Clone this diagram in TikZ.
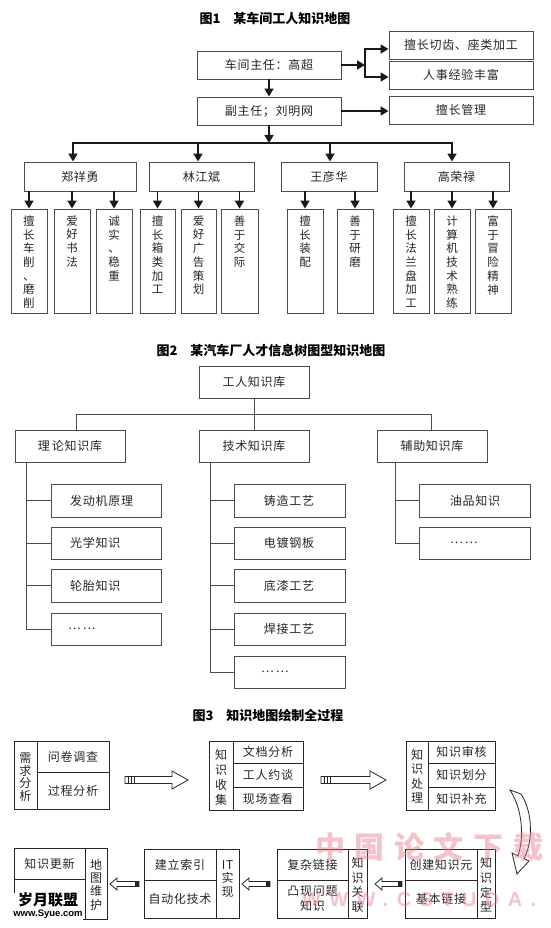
\documentclass[tikz,border=0pt]{standalone}
\usepackage{fontspec}
\newfontfamily\cjk[LetterSpace=6]{Noto Sans CJK SC}
\newfontfamily\cjkt{Noto Sans CJK SC}
\newfontfamily\wmcjk[LetterSpace=32]{Noto Sans CJK SC}
\newfontfamily\wmlat[LetterSpace=42]{Liberation Sans}
\newfontfamily\logolat{Liberation Sans}
\usetikzlibrary{fit,arrows.meta,calc}
\definecolor{wmpink}{RGB}{232,120,132}
\tikzset{
  bx/.style={draw=black!70, line width=0.9pt, inner sep=0pt},
  bx2/.style={bx, line width=0.8pt},
  bx3/.style={draw=black!85, line width=1pt, inner sep=0pt},
  tx/.style={inner sep=0pt, text=black!85, font=\cjk\fontsize{12}{14}\selectfont},
  vt/.style={inner sep=0pt, align=center, text=black!85, font=\cjk\fontsize{11.5}{13.7}\selectfont},
  ttl/.style={inner sep=0pt, font=\cjkt\bfseries\fontsize{13}{15}\selectfont},
  arr/.style={-{Triangle[length=8pt,width=9pt]}, line width=1.7pt, black!90},
  ln1/.style={line width=1.7pt, black!90, line cap=rect},
  ln2/.style={line width=0.8pt, black!70},
  ln3/.style={line width=1pt, black!85},
  blk/.style={line width=0.8pt, black!85, fill=white, line join=miter},
  wm/.style={inner sep=0pt, text=wmpink, opacity=0.45}
}
\newcommand\mkbox[7][bx]{%
  \node[#1, fit={(#3,#4) (#5,#6)}] (#2) {};
  \node[tx] (#2t) at (#2.center) {#7};}
\newcommand\mkcol[5]{%
  \node[bx, fit={(#2,209) (#3,313)}] (#1) {};
  \node[vt, anchor=north] (#1t) at ($(#1.north)+(0,7)$) {#4};
  \draw[arr] (#1.north |- #5.south) -- (#1.north);}
\newcommand\mkch[9]{%
  \node[bx2, fit={(#2,#3) (#4,#5)}] (#1) {};
  \node[tx, anchor=#8] (#1t) at (#7,#3/2+#5/2) {#9};
  \draw[ln2] (#6) |- (#1.west);}
\newcommand\hollowR[3]{%
  \draw[blk] (#1,#3-3.5) -- (#2-16,#3-3.5) -- (#2-16,#3-9) -- (#2,#3) -- (#2-16,#3+9) -- (#2-16,#3+3.5) -- (#1,#3+3.5) -- cycle;
  \foreach \k in {3,6,9} \draw[line width=0.7pt, black!85] (#1+\k,#3-3.5) -- (#1+\k,#3+3.5);}
\newcommand\hollowL[3]{%
  \draw[blk] (#1,#3) -- (#1+7,#3-6) -- (#1+7,#3-2.5) -- (#2,#3-2.5) -- (#2,#3+2.5) -- (#1+7,#3+2.5) -- (#1+7,#3+6) -- cycle;
  \fill[black!85] (#2-4,#3-2.5) rectangle (#2,#3+2.5);}
\begin{document}
\begin{tikzpicture}[x=1pt,y=-1pt]
\useasboundingbox (0,0) rectangle (550,928);
\fill[white] (0,0) rectangle (550,928);

% ---------- Figure 1 ----------
\node[ttl] (t1) at (275,18) {图1\quad 某车间工人知识地图};
\mkbox{zr}{197}{51}{341}{79}{车间主任：高超}
\mkbox{r1}{389}{31}{533}{59}{擅长切齿、座类加工}
\mkbox{r2}{389}{61}{533}{89}{人事经验丰富}
\mkbox{fz}{197}{97}{341}{125}{副主任；刘明网}
\mkbox{r3}{389}{96}{533}{124}{擅长管理}
\coordinate (bt) at (365,49);
\coordinate (bb) at (365,77);
\draw[arr] (zr.east) -- (zr.east -| bt);
\draw[ln1] (bt) -- (bb);
\draw[arr] (bt) -- (bt -| r1.west);
\draw[arr] (bb) -- (bb -| r2.west);
\draw[arr] (zr.south) -- (fz.north);
\draw[arr] (fz.east) -- (fz.east -| r3.west);
\coordinate (hl) at (73,143);
\coordinate (d2) at (198,143);
\coordinate (d3) at (330,143);
\coordinate (hr) at (452,143);
\draw[arr] (fz.south) -- (fz.south |- hl);
\draw[ln1] (hl) -- (hr);
\mkbox{p1}{24}{162}{136}{191}{郑祥勇}
\mkbox{p2}{149}{162}{254}{191}{林江斌}
\mkbox{p3}{281}{162}{377}{191}{王彦华}
\mkbox{p4}{404}{162}{509}{191}{高荣禄}
\draw[arr] (hl) -- (hl |- p1.north);
\draw[arr] (d2) -- (d2 |- p2.north);
\draw[arr] (d3) -- (d3 |- p3.north);
\draw[arr] (hr) -- (hr |- p4.north);
\mkcol{c11}{11}{47}{擅\\长\\车\\削\\、\\磨\\削}{p1}
\mkcol{c12}{54}{90}{爱\\好\\书\\法}{p1}
\mkcol{c13}{96}{132}{诚\\实\\、\\稳\\重}{p1}
\mkcol{c21}{140}{175}{擅\\长\\箱\\类\\加\\工}{p2}
\mkcol{c22}{181}{216}{爱\\好\\广\\告\\策\\划}{p2}
\mkcol{c23}{221}{258}{善\\于\\交\\际}{p2}
\mkcol{c31}{287}{323}{擅\\长\\装\\配}{p3}
\mkcol{c32}{337}{373}{善\\于\\研\\磨}{p3}
\mkcol{c41}{393}{429}{擅\\长\\法\\兰\\盘\\加\\工}{p4}
\mkcol{c42}{434}{470}{计\\算\\机\\技\\术\\熟\\练}{p4}
\mkcol{c43}{475}{511}{富\\于\\冒\\险\\精\\神}{p4}

% ---------- Figure 2 ----------
\node[ttl] (t2) at (271,350) {图2\quad 某汽车厂人才信息树图型知识地图};
\mkbox[bx2]{g0}{199}{366}{309}{398}{工人知识库}
\mkbox[bx2]{g1}{15}{430}{125}{462}{理\,论知识库}
\mkbox[bx2]{g2}{199}{430}{309}{462}{技术知识库}
\mkbox[bx2]{g3}{377}{430}{487}{462}{辅助知识库}
\coordinate (gl) at (76,414);
\coordinate (gr) at (431,414);
\draw[ln2] (g0.south) -- (g0.south |- gl);
\draw[ln2] (gl) -- (gr);
\draw[ln2] (gl) -- (gl |- g1.north);
\draw[ln2] (g0.south |- gl) -- (g2.north);
\draw[ln2] (gr) -- (gr |- g3.north);
\coordinate (k1) at (26,462);
\coordinate (k2) at (210,462);
\coordinate (k3) at (395,462);
\mkch{a1}{51}{484}{161}{517}{k1}{70}{west}{发动机原理}
\mkch{a2}{51}{527}{161}{559}{k1}{70}{west}{光学知识}
\mkch{a3}{51}{569}{161}{602}{k1}{70}{west}{轮胎知识}
\mkch{a4}{51}{613}{161}{645}{k1}{68}{west}{…\,…}
\mkch{b1}{234}{484}{345}{517}{k2}{289}{center}{铸造工艺}
\mkch{b2}{234}{527}{345}{559}{k2}{289}{center}{电镀钢板}
\mkch{b3}{234}{569}{345}{602}{k2}{289}{center}{底漆工艺}
\mkch{b4}{234}{613}{345}{645}{k2}{289}{center}{焊接工艺}
\mkch{b5}{234}{656}{345}{688}{k2}{261}{west}{…\,…}
\mkch{e1}{419}{484}{530}{517}{k3}{475}{center}{油品知识}
\mkch{e2}{419}{527}{530}{559}{k3}{450}{west}{…\,…}

% ---------- Figure 3 ----------
\node[ttl] (t3) at (268,715) {图3\quad 知识地图绘制全过程};
% box 1
\node[bx3, fit={(14,741) (109,809)}] (q1) {};
\draw[ln3] (37,741) -- (37,809);
\draw[ln3] (37,772) -- (109,772);
\node[vt, font=\cjk\fontsize{12}{12.5}\selectfont] (q1v) at (25.5,777) {需\\求\\分\\析};
\node[tx] (q1a) at (73,757) {问卷调查};
\node[tx] (q1b) at (73,791) {过程分析};
\hollowR{125}{188}{780}
% box 2
\node[bx3, fit={(209,741) (303,810)}] (q2) {};
\draw[ln3] (233,741) -- (233,810);
\draw[ln3] (233,763) -- (303,763);
\draw[ln3] (233,787) -- (303,787);
\node[vt, font=\cjk\fontsize{12}{15}\selectfont] (q2v) at (221,777) {知\\识\\收\\集};
\node[tx] (q2a) at (268,752) {文档分析};
\node[tx] (q2b) at (268,775) {工人约谈};
\node[tx] (q2c) at (268,798.5) {现场查看};
\hollowR{321}{386}{780}
% box 3
\node[bx3, fit={(406,741) (495,810)}] (q3) {};
\draw[ln3] (428,741) -- (428,810);
\draw[ln3] (428,763) -- (495,763);
\draw[ln3] (428,787) -- (495,787);
\node[vt, font=\cjk\fontsize{12}{14.5}\selectfont] (q3v) at (417,776) {知\\识\\处\\理};
\node[tx] (q3a) at (461.5,752) {知识审核};
\node[tx] (q3b) at (461.5,775) {知识划分};
\node[tx] (q3c) at (461.5,798.5) {知识补充};
% curved arrow
\draw[blk] (510,790) -- (521,794) .. controls (533,812) and (533,842) .. (524,858.6)
  -- (529,861) -- (517,874) -- (512,853) -- (518,855.8)
  .. controls (524,838) and (523,810) .. (510,790) -- cycle;
% box D
\node[bx3, fit={(405,849) (495,918)}] (q4) {};
\draw[ln3] (477,849) -- (477,918);
\draw[ln3] (405,880) -- (477,880);
\node[vt, font=\cjk\fontsize{12}{14.7}\selectfont] (q4v) at (486,885) {知\\识\\定\\型};
\node[tx] (q4a) at (441,864.5) {创建知识元};
\node[tx] (q4b) at (441,899) {基本链接};
\hollowL{375}{402}{884}
% box C
\node[bx3, fit={(277,849) (367,918)}] (q5) {};
\draw[ln3] (348,849) -- (348,918);
\draw[ln3] (277,880) -- (348,880);
\node[vt, font=\cjk\fontsize{12}{14.7}\selectfont] (q5v) at (357.5,885) {知\\识\\关\\联};
\node[tx] (q5a) at (312.5,864.5) {复杂链接};
\node[tx, align=center, font=\cjk\fontsize{12}{15}\selectfont] (q5b) at (312.5,899) {凸现问题\\知识};
\hollowL{242}{270}{884}
% box B
\node[bx3, fit={(144,849) (239,918)}] (q6) {};
\draw[ln3] (216,849) -- (216,918);
\draw[ln3] (144,880) -- (216,880);
\node[vt, font=\cjk\fontsize{12}{13.5}\selectfont] (q6v) at (227.5,879) {IT\\实\\现};
\node[tx] (q6a) at (180,864.5) {建立索引};
\node[tx] (q6b) at (180,899) {自动化技术};
\hollowL{110}{139}{884}
% box A
\node[bx3, fit={(14,848) (107,919)}] (q7) {};
\draw[ln3] (85,848) -- (85,919);
\draw[ln3] (14,879) -- (85,879);
\node[vt, font=\cjk\fontsize{12}{13.3}\selectfont] (q7v) at (96,884.5) {地\\图\\维\\护};
\node[tx] (q7a) at (49.5,863.5) {知识更新};
\node[tx] (q7b) at (49.5,899) {新知识添加};

% ---------- watermarks ----------
\node[wm, anchor=west, font=\wmcjk\bfseries\fontsize{30}{32}\selectfont] (wm1) at (315,847) {中国论文下载};
\node[wm, anchor=west, font=\wmlat\bfseries\fontsize{20}{22}\selectfont] (wm2) at (302,900) {WWW.CSTUDA.};
\node[fill=white, inner sep=0.6pt, align=center] (logo) at (48,906)
  {{\cjkt\bfseries\fontsize{15}{15}\selectfont 岁月联盟}\\[-1pt]{\logolat\bfseries\fontsize{9.5}{10}\selectfont www.Syue.com}};
\end{tikzpicture}
\end{document}
